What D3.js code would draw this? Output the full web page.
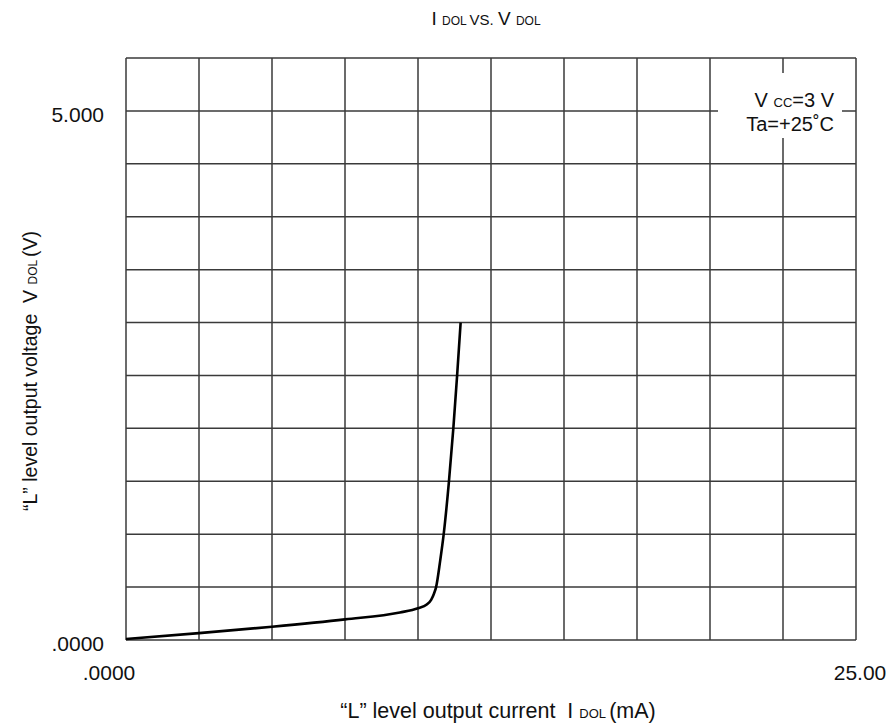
<!DOCTYPE html>
<html><head><meta charset="utf-8">
<script src="https://cdn.jsdelivr.net/npm/d3@7"></script>
<style>body{margin:0;background:#fff}svg{font-family:"Liberation Sans",Arial,sans-serif}</style>
</head><body>
<svg id="c" width="893" height="728"></svg>
<script>
// Data
const currentMA = [0, 2.5, 5.0, 7.5, 9.38, 10.0, 10.3, 10.45, 10.55, 10.62, 10.76, 10.88, 11.06, 11.21, 11.34, 11.46];
const voltageV  = [0.01, 0.065, 0.125, 0.195, 0.26, 0.30, 0.335, 0.38, 0.44, 0.50, 0.75, 1.0, 1.5, 2.0, 2.5, 3.0];
const xTickValues = [0, 25];
const xTickLabels = [".0000", "25.00"];
const yTickValues = [0, 5];
const yTickLabels = [".0000", "5.000"];

const svg = d3.select("#c");
const L = 126, R = 856, T = 58, B = 640;
const x = d3.scaleLinear().domain([0, 25]).range([L, R]);
const y = d3.scaleLinear().domain([0, 5.5]).range([B, T]);

// grid
const grid = svg.append("g").attr("stroke", "#3a3a3a").attr("stroke-width", 1.5);
d3.range(0, 25.01, 2.5).forEach(v => grid.append("line").attr("x1", x(v)).attr("x2", x(v)).attr("y1", T).attr("y2", B));
d3.range(0, 5.51, 0.5).forEach(v => grid.append("line").attr("x1", L).attr("x2", R).attr("y1", y(v)).attr("y2", y(v)));

// annotation box (white, covering grid)
svg.append("rect").attr("x", 718).attr("y", 73).attr("width", 124).attr("height", 65).attr("fill", "#fff");
const ann = svg.append("g").attr("font-size", 20).attr("fill", "#111").attr("text-anchor", "end");
const a1 = ann.append("text").attr("x", 834).attr("y", 107);
a1.append("tspan").text("V ");
a1.append("tspan").attr("font-size", 13).text("CC");
a1.append("tspan").text("=3 V");
ann.append("text").attr("x", 834).attr("y", 131).text("Ta=+25˚C");

// curve
const line = d3.line().x((d, i) => x(currentMA[i])).y((d, i) => y(voltageV[i])).curve(d3.curveMonotoneX);
svg.append("path").datum(currentMA).attr("d", line).attr("fill", "none").attr("stroke", "#000").attr("stroke-width", 2.6);

// ticks labels
svg.append("g").selectAll("text").data(yTickValues).join("text")
  .attr("x", 104).attr("y", d => y(d) + 11).attr("text-anchor", "end").attr("font-size", 21).attr("fill", "#111")
  .text((d, i) => yTickLabels[i]);
svg.append("g").selectAll("text").data(xTickValues).join("text")
  .attr("x", (d, i) => i === 0 ? x(d) - 17 : x(d) + 4).attr("y", 680).attr("text-anchor", "middle").attr("font-size", 21).attr("fill", "#111")
  .text((d, i) => xTickLabels[i]);

// title
const t = svg.append("text").attr("x", 486).attr("y", 25).attr("text-anchor", "middle").attr("fill", "#111").attr("font-size", 19);
t.append("tspan").text("I ");
t.append("tspan").attr("font-size", 12).text("DOL ");
t.append("tspan").attr("font-size", 15).text("VS. ");
t.append("tspan").text("V ");
t.append("tspan").attr("font-size", 12).text("DOL");

// x label
const xl = svg.append("text").attr("x", 498).attr("y", 718).attr("text-anchor", "middle").attr("font-size", 21.5).attr("fill", "#111");
xl.append("tspan").text("“L” level output current\u00a0\u00a0I ");
xl.append("tspan").attr("font-size", 13).text("DOL ");
xl.append("tspan").text("(mA)");

// y label
const yl = svg.append("text").attr("transform", "translate(37,371) rotate(-90)").attr("text-anchor", "middle").attr("font-size", 19.5).attr("fill", "#111");
yl.append("tspan").text("“L” level output voltage\u00a0\u00a0V ");
yl.append("tspan").attr("font-size", 12).text("DOL ");
yl.append("tspan").text("(V)");
</script>
</body></html>
